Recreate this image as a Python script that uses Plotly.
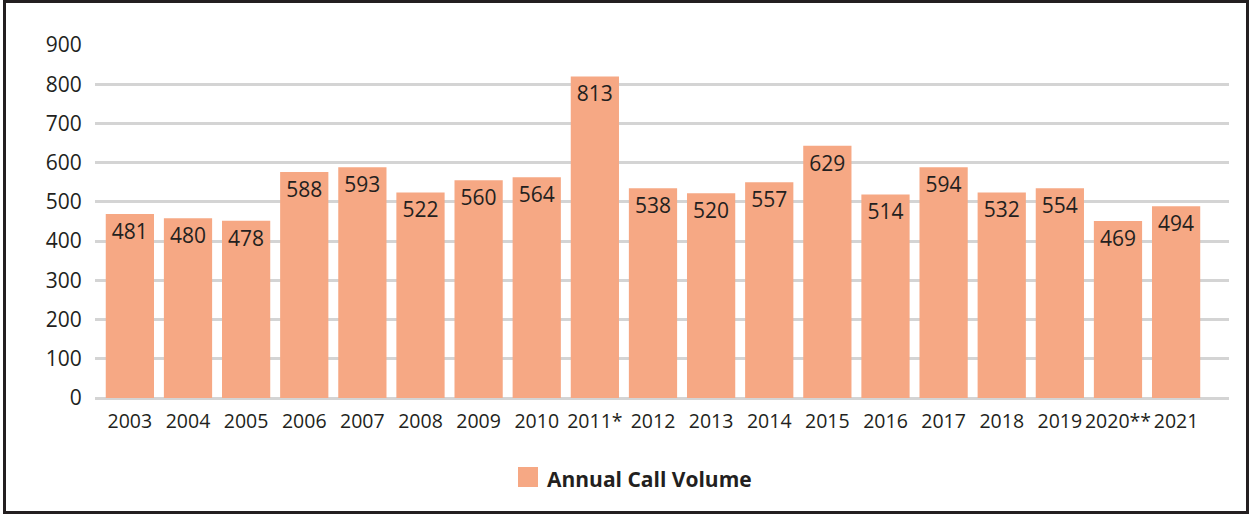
import plotly.graph_objects as go

years = ["2003", "2004", "2005", "2006", "2007", "2008", "2009", "2010", "2011*", "2012",
         "2013", "2014", "2015", "2016", "2017", "2018", "2019", "2020**", "2021"]
# bar heights as drawn in the reference
bar_heights = [469, 458, 452, 576, 588, 524, 555, 563, 820, 535,
               522, 550, 643, 519, 588, 524, 535, 451, 489]
# value labels printed on the bars
labels = [481, 480, 478, 588, 593, 522, 560, 564, 813, 538,
          520, 557, 629, 514, 594, 532, 554, 469, 494]
y_ticks = [0, 100, 200, 300, 400, 500, 600, 700, 800, 900]
series_name = "Annual Call Volume"

BAR = "#F6A884"
DARK = "#231F20"
FONT = "Open Sans"

W, H = 1249, 514
ML, MR, MT, MB = 95, 20, 45, 116
PW, PH = W - ML - MR, H - MT - MB

def px(x):
    return (x - ML) / PW

def py(y):
    return (H - MB - y) / PH

fig = go.Figure()
fig.add_trace(go.Bar(
    x=years, y=bar_heights, name=series_name,
    marker=dict(color=BAR, line=dict(width=0)),
    text=[str(v) for v in labels], textposition="inside",
    insidetextanchor="end", textangle=0,
    textfont=dict(family=FONT, size=21, color=DARK),
    showlegend=False,
))

fig.update_layout(
    width=W, height=H,
    margin=dict(l=ML, r=MR, t=MT, b=MB, pad=0),
    paper_bgcolor="white", plot_bgcolor="white",
    bargap=0.17,
    font=dict(family=FONT, color=DARK),
    xaxis=dict(
        range=[-0.6, 18.91], showgrid=False, showline=False, zeroline=False,
        ticks="outside", ticklen=6, tickcolor="rgba(0,0,0,0)", tickangle=0,
        tickfont=dict(family=FONT, size=19.5, color=DARK),
    ),
    yaxis=dict(
        range=[0, 900], tickvals=y_ticks, showgrid=True, gridcolor="#D4D4D4", gridwidth=3,
        zeroline=True, zerolinecolor="#D4D4D4", zerolinewidth=3, showline=False,
        ticks="outside", ticklen=8, tickcolor="rgba(0,0,0,0)",
        tickfont=dict(family=FONT, size=21, color=DARK),
    ),
    shapes=[
        dict(type="rect", xref="paper", yref="paper",
             x0=px(4.5), x1=px(1247.5), y0=py(512.5), y1=py(1.5),
             line=dict(color=DARK, width=3), fillcolor="rgba(0,0,0,0)", layer="above"),
        dict(type="rect", xref="paper", yref="paper",
             x0=px(518), x1=px(538), y0=py(487), y1=py(467),
             line=dict(width=0), fillcolor=BAR),
    ],
    annotations=[
        dict(text="<b>" + series_name + "</b>", xref="paper", yref="paper",
             x=px(545), y=py(479), xanchor="left", yanchor="middle", showarrow=False,
             font=dict(family=FONT, size=21, color=DARK)),
    ],
)

fig.write_html("out.html")
